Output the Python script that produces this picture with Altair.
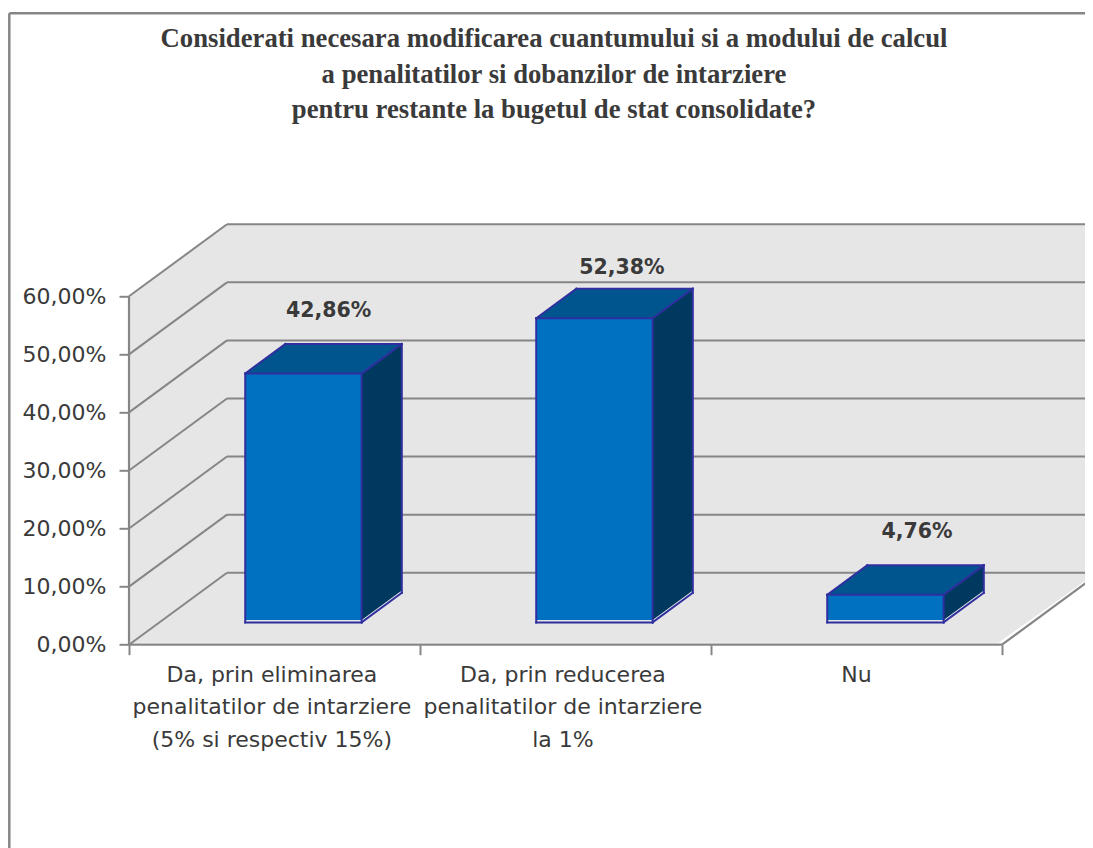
import altair as alt
import pandas as pd

# ---- chart values ----
categories = [
    "Da, prin eliminarea\npenalitatilor de intarziere\n(5% si respectiv 15%)",
    "Da, prin reducerea\npenalitatilor de intarziere\nla 1%",
    "Nu",
]
values = [42.86, 52.38, 4.76]
value_labels = ["42,86%", "52,38%", "4,76%"]
title_lines = [
    "Considerati necesara modificarea cuantumului si a modului de calcul",
    "a penalitatilor si dobanzilor de intarziere",
    "pentru restante la bugetul de stat consolidate?",
]
y_ticks = [0, 10, 20, 30, 40, 50, 60]
x_ticks = [0, 1, 2, 3]

# ---- oblique projection, in scale units ----
PX_X, PX_Y = 291.0, 5.807       # pixels per category / per percentage point
DEPTH_X, DEPTH_Y = 98 / PX_X, 72 / PX_Y
PW, PH = 956, 420.4
XD = [0, PW / PX_X]
YD = [0, PH / PX_Y]
N = len(categories)
BAR_W, D0, D1, BAR_SHIFT = 0.40, 0.31, 0.72, -0.005
TOP_Y = y_ticks[-1]
GRID = "#868686"
FRONT, TOPC, SIDE, EDGE = "#0070c0", "#00558f", "#00395f", "#2f2f9f"
TXT = "#3a3a3a"

X_AXIS = alt.Axis(values=x_ticks, labels=False, title=None, grid=False, domain=False,
                  tickSize=10, tickColor=GRID, tickWidth=2)
Y_AXIS = alt.Axis(values=y_ticks, title=None, grid=False, domain=False,
                  tickSize=10, tickColor=GRID, tickWidth=2,
                  labelExpr="replace(format(datum.value,'.2f'),'.',',')+'%'",
                  labelFont="DejaVu Sans", labelFontSize=22, labelColor=TXT,
                  labelPadding=13)


def px(u, d):
    return u + d * DEPTH_X


def py(v, d):
    return v + d * DEPTH_Y


X = lambda f="x": alt.X(f"{f}:Q", scale=alt.Scale(domain=XD, nice=False, zero=False), axis=X_AXIS)
Y = lambda f="y": alt.Y(f"{f}:Q", scale=alt.Scale(domain=YD, nice=False, zero=False), axis=Y_AXIS)


def segs(rows):
    return pd.DataFrame(rows, columns=["x", "y", "x2", "y2"])


def rules(rows, color=GRID, width=2.0, cap="butt"):
    return (
        alt.Chart(segs(rows))
        .mark_rule(color=color, strokeWidth=width, strokeCap=cap)
        .encode(x=X(), y=Y(), x2="x2:Q", y2="y2:Q")
    )


# ---- walls and floor ----
wall_color = "#e6e6e6"
back = (
    alt.Chart(pd.DataFrame([dict(x=px(0, 1), x2=px(N, 1), y=py(0, 1), y2=py(TOP_Y, 1))]))
    .mark_rect(color=wall_color)
    .encode(x=X(), x2="x2:Q", y=Y(), y2="y2:Q")
)
left = (
    alt.Chart(pd.DataFrame([
        dict(x=px(0, 0), y=py(0, 0), y2=py(TOP_Y, 0)),
        dict(x=px(0, 1), y=py(0, 1), y2=py(TOP_Y, 1)),
    ]))
    .mark_area(color=wall_color, opacity=1)
    .encode(x=X(), y=Y(), y2="y2:Q")
)
floor = (
    alt.Chart(pd.DataFrame([
        dict(y=py(0.35, 0), x=px(0, 0), x2=px(N, 0) - 0.012),
        dict(y=py(0, 1), x=px(0, 1), x2=px(N, 1) - 0.012),
    ]))
    .mark_area(color=wall_color, opacity=1, orient="horizontal")
    .encode(y=Y(), x=X(), x2="x2:Q")
)

grid_rows = []
for v in y_ticks:
    grid_rows.append((px(0, 0), py(v, 0), px(0, 1), py(v, 1)))
    grid_rows.append((px(0, 1), py(v, 1), px(N, 1), py(v, 1)))
grid = rules(grid_rows, width=2.0)
frame = rules([
    (0, 0, 0, TOP_Y),
    (0, 0, N, 0),
    (px(N, 0), py(0, 0), px(N, 1), py(0, 1)),
], width=2.2)

# ---- bars ----
front_rows, side_rows, top_rows, edge_rows = [], [], [], []
LIFT = 0.42  # white sliver between the fill and the outline at the bar foot
for i, v in enumerate(values):
    a = i + 0.5 - BAR_W / 2 + BAR_SHIFT
    b = i + 0.5 + BAR_W / 2 + BAR_SHIFT
    front_rows.append(dict(x=px(a, D0), x2=px(b, D0), y=py(LIFT, D0), y2=py(v, D0)))
    side_rows += [
        dict(bar=i, x=px(b, D0), y=py(LIFT, D0), y2=py(v, D0)),
        dict(bar=i, x=px(b, D1), y=py(LIFT, D1), y2=py(v, D1)),
    ]
    top_rows += [
        dict(bar=i, y=py(v, D0), x=px(a, D0), x2=px(b, D0)),
        dict(bar=i, y=py(v, D1), x=px(a, D1), x2=px(b, D1)),
    ]
    P = lambda u, vv, d: (px(u, d), py(vv, d))
    for s, e in [
        (P(a, 0, D0), P(b, 0, D0)), (P(a, v, D0), P(b, v, D0)),
        (P(a, 0, D0), P(a, v, D0)), (P(b, 0, D0), P(b, v, D0)),
        (P(a, v, D1), P(b, v, D1)), (P(b, 0, D1), P(b, v, D1)),
        (P(a, v, D0), P(a, v, D1)), (P(b, v, D0), P(b, v, D1)),
        (P(b, 0, D0), P(b, 0, D1)),
    ]:
        edge_rows.append((s[0], s[1], e[0], e[1]))

front = (
    alt.Chart(pd.DataFrame(front_rows)).mark_rect(color=FRONT)
    .encode(x=X(), x2="x2:Q", y=Y(), y2="y2:Q")
)
side = (
    alt.Chart(pd.DataFrame(side_rows)).mark_area(color=SIDE, opacity=1)
    .encode(x=X(), y=Y(), y2="y2:Q", detail="bar:N")
)
top = (
    alt.Chart(pd.DataFrame(top_rows)).mark_area(color=TOPC, opacity=1, orient="horizontal")
    .encode(y=Y(), x=X(), x2="x2:Q", detail="bar:N")
)
edges = rules(edge_rows, color=EDGE, width=2.0, cap="square")

# ---- texts ----
label_dx = [0.186, 0.194, 0.208]
label_lift = [13.55, 11.45, 13.6]
value_text = (
    alt.Chart(pd.DataFrame({
        "x": [i + 0.5 + label_dx[i] for i in range(N)],
        "y": [values[i] + label_lift[i] for i in range(N)],
        "t": value_labels,
    }))
    .mark_text(font="DejaVu Sans", fontWeight="bold", fontSize=20.5, color=TXT, baseline="alphabetic")
    .encode(x=X(), y=Y(), text="t:N")
)
cat_dx = [-0.009, -0.009, 0.0]
cat_text = (
    alt.Chart(pd.DataFrame({
        "x": [i + 0.5 + cat_dx[i] for i in range(N)],
        "y": [-6.42] * N,
        "t": categories,
    }))
    .mark_text(font="DejaVu Sans", fontSize=22, color=TXT, baseline="alphabetic", lineBreak="\n", lineHeight=32.5)
    .encode(x=X(), y=Y(), text="t:N")
)

# ---- outer chart border ----
border = (
    alt.Chart(pd.DataFrame({"a": [0]}))
    .mark_rule(color=GRID, strokeWidth=2.5)
    .encode(x=alt.value(-119.7), x2=alt.value(PW + 5), y=alt.value(-211))
)
border2 = (
    alt.Chart(pd.DataFrame({"a": [0]}))
    .mark_rule(color=GRID, strokeWidth=2.5)
    .encode(x=alt.value(-119.7), y=alt.value(-211), y2=alt.value(PH + 210))
)

chart = (
    alt.layer(back, left, floor, grid, frame, side, top, front, edges,
              value_text, cat_text, border, border2)
    .properties(
        width=PW,
        height=PH,
        background="white",
        padding={"left": 121, "top": 216.3, "right": 0, "bottom": 203.3},
        autosize=alt.AutoSizeParams(type="none"),
        title=alt.TitleParams(
            text=title_lines,
            font="Liberation Serif",
            fontWeight="bold",
            fontSize=26.7,
            color=TXT,
            anchor="middle",
            dx=-53,
            lineHeight=35.5,
            offset=-112,
        ),
    )
    .configure_view(stroke="transparent")
)

chart.save("out.html", embed_options={"renderer": "svg", "actions": False})
